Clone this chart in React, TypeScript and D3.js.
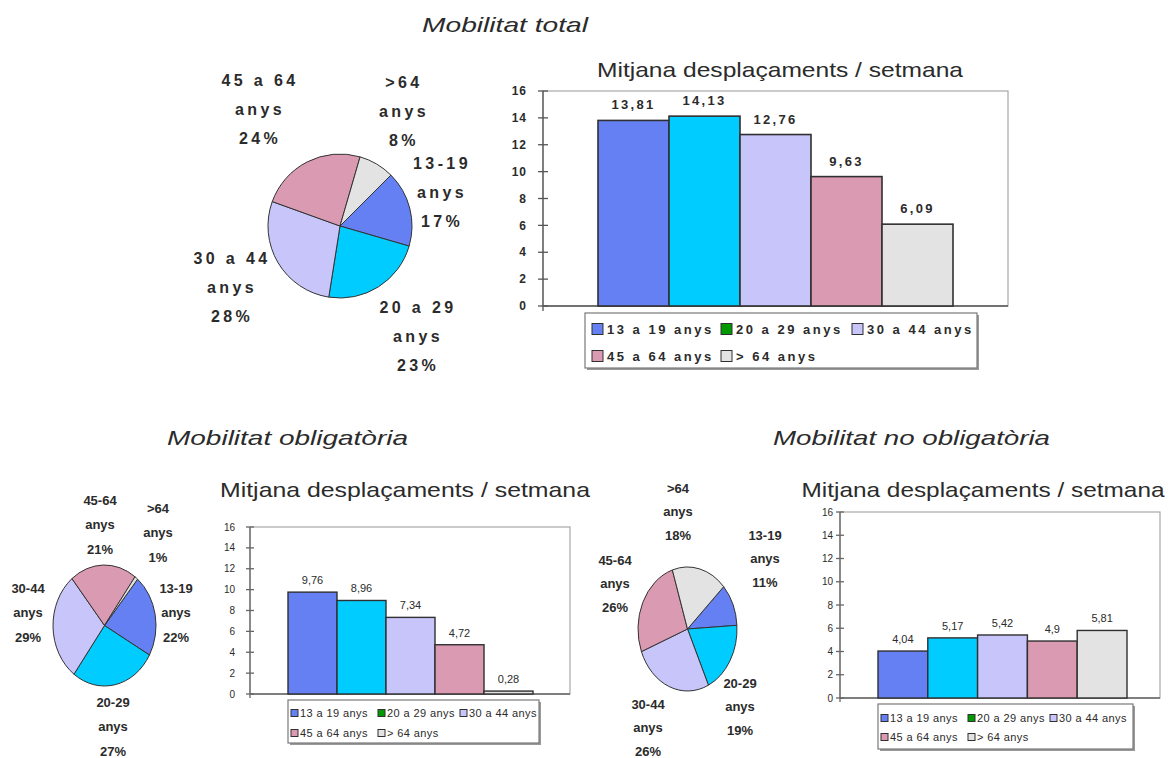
import React from "react";
import * as d3 from "d3";

// Age groups and series
const ageGroups = ["13 a 19 anys", "20 a 29 anys", "30 a 44 anys", "45 a 64 anys", "> 64 anys"];
const pieNamesTotal = ["13-19", "20 a 29", "30 a 44", "45 a 64", ">64"];
const pieNamesShort = ["13-19", "20-29", "30-44", "45-64", ">64"];

const totalAvg = [13.81, 14.13, 12.76, 9.63, 6.09];
const obligAvg = [9.76, 8.96, 7.34, 4.72, 0.28];
const noObligAvg = [4.04, 5.17, 5.42, 4.9, 5.81];

const totalShare = [17, 23, 28, 24, 8];
const obligShare = [22, 27, 29, 21, 1];
const noObligShare = [11, 19, 26, 26, 18];

const yTicks = [0, 2, 4, 6, 8, 10, 12, 14, 16];

const sectionTitles = ["Mobilitat total", "Mobilitat obligatòria", "Mobilitat no obligatòria"];
const barTitle = "Mitjana desplaçaments / setmana";

const barColors = ["#6580f2", "#00ccff", "#c8c5fa", "#d99ab2", "#e3e3e3"];
const legendColors = ["#6580f2", "#009900", "#c8c5fa", "#d99ab2", "#e3e3e3"];

const FONT = "'Liberation Sans', Arial, sans-serif";
const INK = "#2b2b2b";

const fmt = (v: number) => String(v).replace(".", ",");

type BarCfg = {
  plotLeft: number; plotRight: number; yTop: number; yBottom: number;
  barLeft: number; barRight: number;
  titleX: number; titleY: number; titleLen: number; titleSize: number;
  legX: number; legY: number; legW: number; legH: number; legRows: number[];
  legCols: number[]; sw: number; swGap: number;
  legFont: number; legWeight: number; legLs: number;
  valFont: number; valWeight: number; valLs: number; valGap: number;
  tickFont: number; tickWeight: number; tickLs: number; tickRight: number; tickLen: number;
  barStroke: number; axisColor: string;
};

function BarPanel({ values, cfg }: { values: number[]; cfg: BarCfg }) {
  const y = d3.scaleLinear().domain([0, 16]).range([cfg.yBottom, cfg.yTop]);
  const x = d3.scaleBand<string>().domain(ageGroups).range([cfg.barLeft, cfg.barRight]).paddingInner(0);
  return (
    <g>
      <text x={cfg.titleX} y={cfg.titleY} textAnchor="middle" fontSize={cfg.titleSize} fill={INK}
        textLength={cfg.titleLen} lengthAdjust="spacingAndGlyphs" fontFamily={FONT}>{barTitle}</text>
      {/* plot area frame */}
      <rect x={cfg.plotLeft} y={cfg.yTop} width={cfg.plotRight - cfg.plotLeft} height={cfg.yBottom - cfg.yTop}
        fill="none" stroke="#a8a8a8" strokeWidth={1.2} />
      {/* y axis with crossing ticks */}
      <line x1={cfg.plotLeft} x2={cfg.plotLeft} y1={cfg.yTop} y2={cfg.yBottom + cfg.tickLen} stroke={cfg.axisColor} strokeWidth={1.3} />
      <line x1={cfg.plotLeft} x2={cfg.plotRight} y1={cfg.yBottom} y2={cfg.yBottom} stroke={cfg.axisColor} strokeWidth={1.3} />
      {yTicks.map((t) => (
        <g key={t}>
          <line x1={cfg.plotLeft - cfg.tickLen} x2={cfg.plotLeft + cfg.tickLen} y1={y(t)} y2={y(t)} stroke={cfg.axisColor} strokeWidth={1.3} />
          <text x={cfg.tickRight} y={y(t)} dy="0.35em" textAnchor="end" fontSize={cfg.tickFont}
            fontWeight={cfg.tickWeight} letterSpacing={cfg.tickLs} fill={INK} fontFamily={FONT}>{t}</text>
        </g>
      ))}
      {values.map((v, i) => (
        <g key={ageGroups[i]}>
          <rect x={x(ageGroups[i])!} y={y(v)} width={x.bandwidth()} height={y(0) - y(v)}
            fill={barColors[i]} stroke="#303030" strokeWidth={cfg.barStroke} />
          <text x={x(ageGroups[i])! + x.bandwidth() / 2} y={y(v) - cfg.valGap} textAnchor="middle"
            fontSize={cfg.valFont} fontWeight={cfg.valWeight} letterSpacing={cfg.valLs} fill={INK} fontFamily={FONT}>{fmt(v)}</text>
        </g>
      ))}
      {/* legend */}
      <rect x={cfg.legX + 2} y={cfg.legY + 2} width={cfg.legW} height={cfg.legH} fill="#9a9a9a" />
      <rect x={cfg.legX} y={cfg.legY} width={cfg.legW} height={cfg.legH} fill="#fff" stroke="#7a7a7a" strokeWidth={1.2} />
      {ageGroups.map((g, i) => {
        const row = i < 3 ? 0 : 1;
        const col = i < 3 ? i : i - 3;
        const sx = cfg.legX + cfg.legCols[col];
        const cy = cfg.legRows[row];
        return (
          <g key={g}>
            <rect x={sx} y={cy - cfg.sw / 2} width={cfg.sw} height={cfg.sw} fill={legendColors[i]} stroke="#303030" strokeWidth={1} />
            <text x={sx + cfg.sw + cfg.swGap} y={cy} dy="0.36em" fontSize={cfg.legFont} fontWeight={cfg.legWeight}
              letterSpacing={cfg.legLs} fill={INK} fontFamily={FONT}>{g}</text>
          </g>
        );
      })}
    </g>
  );
}

type PieCfg = {
  cx: number; cy: number; rx: number; ry: number; startDeg: number;
  labelPos: [number, number][]; lineGap: number; font: number; ls: number;
};

function PiePanel({ shares, names, cfg }: { shares: number[]; names: string[]; cfg: PieCfg }) {
  const start = (cfg.startDeg * Math.PI) / 180;
  const arcs = d3.pie<number>().sort(null).startAngle(start).endAngle(start + 2 * Math.PI)(shares);
  const arc = d3.arc<d3.PieArcDatum<number>>().innerRadius(0).outerRadius(1);
  return (
    <g>
      <g transform={`translate(${cfg.cx},${cfg.cy}) scale(${cfg.rx},${cfg.ry})`}>
        {arcs.map((a, i) => (
          <path key={i} d={arc(a)!} fill={barColors[i]} stroke="#333" strokeWidth={1} vectorEffect="non-scaling-stroke" />
        ))}
      </g>
      {shares.map((s, i) => {
        const [lx, ly] = cfg.labelPos[i];
        const lines = [names[i], "anys", `${s}%`];
        return lines.map((t, k) => (
          <text key={`${i}-${k}`} x={lx} y={ly + k * cfg.lineGap} dy="0.36em" textAnchor="middle"
            fontSize={cfg.font} fontWeight={700} letterSpacing={cfg.ls} fill={INK} fontFamily={FONT}>{t}</text>
        ));
      })}
    </g>
  );
}

const topBar: BarCfg = {
  plotLeft: 543, plotRight: 1008, yTop: 91, yBottom: 306, barLeft: 598, barRight: 953,
  titleX: 780, titleY: 77, titleLen: 366, titleSize: 21,
  legX: 585, legY: 313, legW: 392, legH: 55, legRows: [329, 356], legCols: [7, 136, 267], sw: 11, swGap: 4,
  legFont: 13, legWeight: 700, legLs: 2.5,
  valFont: 13, valWeight: 700, valLs: 2.3, valGap: 11,
  tickFont: 12, tickWeight: 700, tickLs: 1, tickRight: 527, tickLen: 5,
  barStroke: 1.6, axisColor: "#555",
};

const leftBar: BarCfg = {
  plotLeft: 250, plotRight: 570, yTop: 527, yBottom: 694, barLeft: 288, barRight: 533,
  titleX: 405, titleY: 497, titleLen: 370, titleSize: 21,
  legX: 288, legY: 700, legW: 251, legH: 43, legRows: [713, 733], legCols: [3, 90, 172], sw: 7, swGap: 2,
  legFont: 11, legWeight: 400, legLs: 0.4,
  valFont: 11, valWeight: 400, valLs: 0, valGap: 8,
  tickFont: 10, tickWeight: 400, tickLs: 0, tickRight: 235, tickLen: 4,
  barStroke: 1.4, axisColor: "#666",
};

const rightBar: BarCfg = {
  plotLeft: 840, plotRight: 1160, yTop: 512, yBottom: 698, barLeft: 878, barRight: 1127,
  titleX: 983, titleY: 497, titleLen: 363, titleSize: 21,
  legX: 878, legY: 704, legW: 255, legH: 45, legRows: [718, 737], legCols: [3, 90, 172], sw: 7, swGap: 2,
  legFont: 11, legWeight: 400, legLs: 0.4,
  valFont: 11, valWeight: 400, valLs: 0, valGap: 8,
  tickFont: 10, tickWeight: 400, tickLs: 0, tickRight: 833, tickLen: 4,
  barStroke: 1.4, axisColor: "#666",
};

const topPie: PieCfg = {
  cx: 340, cy: 226, rx: 72, ry: 72, startDeg: 45,
  labelPos: [[442, 163], [418, 307], [232, 258], [260, 80], [404, 82]],
  lineGap: 29, font: 16, ls: 3.4,
};

const leftPie: PieCfg = {
  cx: 104.5, cy: 625.5, rx: 51.5, ry: 60.5, startDeg: 40,
  labelPos: [[176, 588], [113, 702], [28, 588], [100, 500], [158, 508]],
  lineGap: 24.5, font: 13, ls: 0,
};

const rightPie: PieCfg = {
  cx: 687.5, cy: 629, rx: 49.5, ry: 62, startDeg: 47,
  labelPos: [[765, 535], [740, 683], [648, 704], [615, 560], [678, 488]],
  lineGap: 23.5, font: 13, ls: 0,
};

export default function App() {
  return (
    <svg width={1170} height={758} style={{ position: "absolute", left: 0, top: 0, background: "#fff" }}
      fontFamily={FONT}>
      <rect width={1170} height={758} fill="#fff" />
      <text x={505} y={32} textAnchor="middle" fontSize={21} fontStyle="italic" fill={INK}
        textLength={166} lengthAdjust="spacingAndGlyphs">{sectionTitles[0]}</text>
      <text x={287.5} y={445} textAnchor="middle" fontSize={21} fontStyle="italic" fill={INK}
        textLength={241} lengthAdjust="spacingAndGlyphs">{sectionTitles[1]}</text>
      <text x={911.5} y={445} textAnchor="middle" fontSize={21} fontStyle="italic" fill={INK}
        textLength={277} lengthAdjust="spacingAndGlyphs">{sectionTitles[2]}</text>

      <PiePanel shares={totalShare} names={pieNamesTotal} cfg={topPie} />
      <BarPanel values={totalAvg} cfg={topBar} />

      <PiePanel shares={obligShare} names={pieNamesShort} cfg={leftPie} />
      <BarPanel values={obligAvg} cfg={leftBar} />

      <PiePanel shares={noObligShare} names={pieNamesShort} cfg={rightPie} />
      <BarPanel values={noObligAvg} cfg={rightBar} />
    </svg>
  );
}
